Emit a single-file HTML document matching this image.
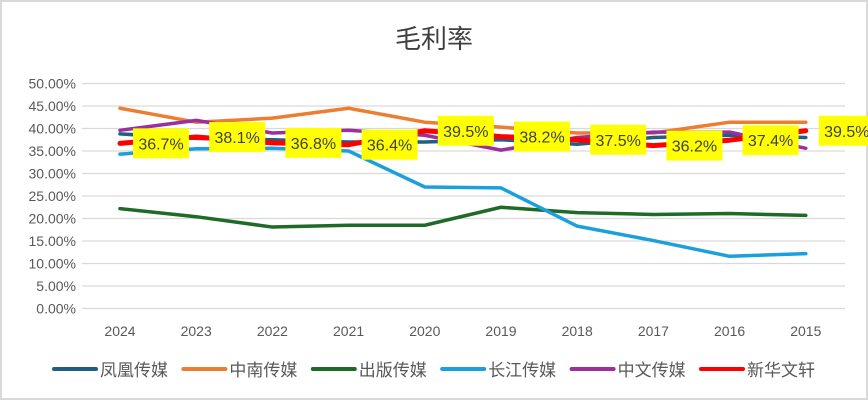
<!DOCTYPE html>
<html><head><meta charset="utf-8"><style>
body{margin:0;background:#fff;}
svg{display:block;font-family:"Liberation Sans","Noto Sans CJK SC",sans-serif;}
</style></head><body>
<svg id="c" width="868" height="400">
<rect x="1" y="1" width="866" height="398" fill="#fff" stroke="#d9d9d9" stroke-width="2"/>
<text x="434" y="48" text-anchor="middle" font-size="26" fill="#404040">毛利率</text>
<g id="grid"></g><g id="series"></g><g id="labels"></g><g id="legend"></g>
</svg>
<script>
const categories=["2024","2023","2022","2021","2020","2019","2018","2017","2016","2015"];
const yTicks=[0,5,10,15,20,25,30,35,40,45,50];
const seriesNames=["凤凰传媒","中南传媒","出版传媒","长江传媒","中文传媒","新华文轩"];
const seriesColors=["#1f5f85","#ed7d31","#1e6b28","#1ba0dc","#9b2f9b","#ff0000"];
const fenghuang=[38.8,37.8,37.5,37.0,37.0,37.5,36.5,38.0,38.5,38.0];
const zhongnan=[44.5,41.4,42.3,44.5,41.4,40.3,39.0,39.0,41.4,41.4];
const chuban=[22.2,20.4,18.1,18.5,18.5,22.5,21.3,20.9,21.1,20.7];
const changjiang=[34.3,35.5,35.6,35.0,27.0,26.8,18.3,15.1,11.6,12.2];
const zhongwen=[39.6,41.8,39.0,39.6,38.5,35.2,38.0,39.2,39.2,35.6];
const xinhua=[36.7,38.1,36.8,36.4,39.5,38.2,37.5,36.2,37.4,39.5];
const allSeries=[fenghuang,zhongnan,chuban,changjiang,zhongwen,xinhua];
const NS="http://www.w3.org/2000/svg";
const x=i=>120+i*76.2;
const y=v=>308.5-v*4.5;
function mk(t,a,p){const e=document.createElementNS(NS,t);for(const k in a)e.setAttribute(k,a[k]);p.appendChild(e);return e;}
const g=document.getElementById('grid');
yTicks.forEach(v=>{
 const l=mk('line',{x1:82,x2:845,y1:y(v),y2:y(v),stroke:'#d9d9d9','stroke-width':1.3},g);
 
 
 const t=mk('text',{x:76,y:y(v)+5,'text-anchor':'end','font-size':14,fill:'#595959'},g);
 t.textContent=v.toFixed(2)+'%';
 
 
});
categories.forEach((c,i)=>{
 const t=mk('text',{x:x(i),y:336,'text-anchor':'middle','font-size':14,fill:'#595959'},g);
 t.textContent=c;
 
 
});
const sg=document.getElementById('series');
allSeries.forEach((s,k)=>{
 const p=mk('polyline',{points:s.map((v,i)=>x(i)+','+y(v)).join(' '),fill:'none',stroke:seriesColors[k],'stroke-width':k==5?5:3.5,'stroke-linejoin':'round','stroke-linecap':'round'},sg);
 
 
});
const lg=document.getElementById('labels');
xinhua.forEach((v,i)=>{
 const bx=x(i)+13, by=y(v)-15;
 const r=mk('rect',{x:bx,y:by,width:56,height:30,fill:'#ffff00'},lg);
 
 
 const t=mk('text',{x:bx+28,y:by+21,'text-anchor':'middle','font-size':16,fill:'#404040'},lg);
 t.textContent=v.toFixed(1)+'%';
 
 
});
const leg=document.getElementById('legend');
seriesNames.forEach((n,k)=>{
 const lx=54+k*129.4;
 const l=mk('line',{x1:lx,x2:lx+42,y1:369,y2:369,stroke:seriesColors[k],'stroke-width':4,'stroke-linecap':'round'},leg);
 
 
 const t=mk('text',{x:lx+46,y:376,'font-size':17,fill:'#595959'},leg);
 t.textContent=n;
 
 
});
</script>
</body></html>
